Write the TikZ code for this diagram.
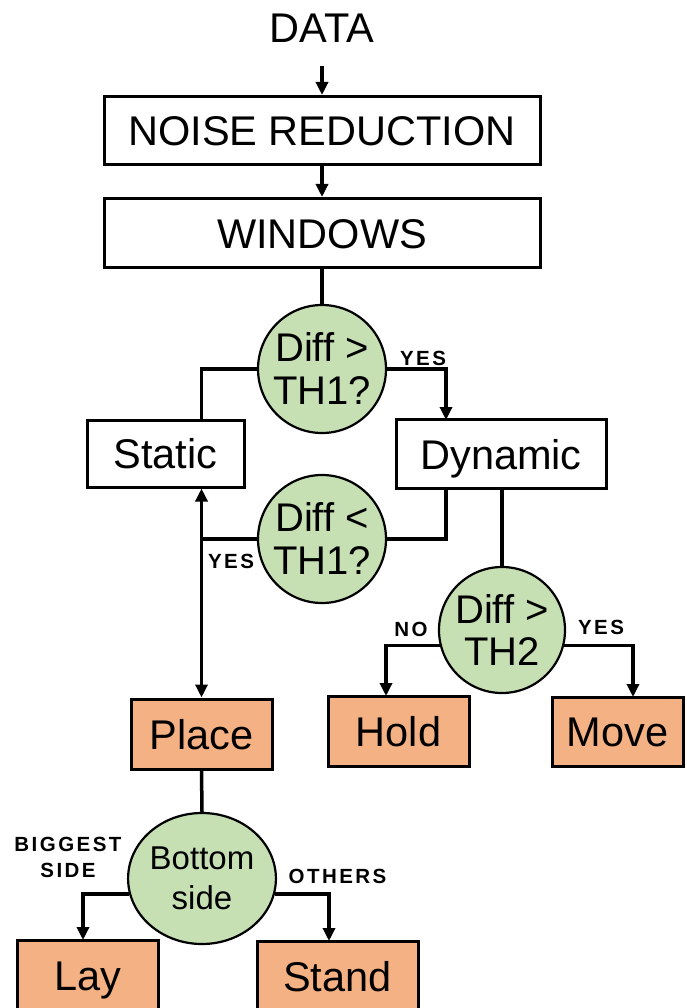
\documentclass[tikz,border=0pt]{standalone}
\usepackage{fontspec}
\setmainfont{Liberation Sans}
\newfontfamily\lblfont[LetterSpace=12]{Liberation Sans}
\usetikzlibrary{arrows.meta,shapes.geometric}

\definecolor{decgreen}{RGB}{198,224,180}
\definecolor{outorange}{RGB}{244,177,131}

\begin{document}
\begin{tikzpicture}[x=1pt,y=-1pt,
  conn/.style={line width=3.5pt},
  arr/.style={conn,-{Triangle[length=13pt,width=12pt]}},
  dblarr/.style={conn,{Triangle[length=13pt,width=12pt]}-{Triangle[length=13pt,width=12pt]}},
  bigtext/.style={font=\fontsize{41.5}{45}\selectfont,text height=30pt,text depth=0pt},
  stepbox/.style={bigtext,draw,line width=3pt,fill=white,inner sep=0pt},
  outbox/.style={stepbox,fill=outorange},
  decision/.style={circle,draw,line width=2.2pt,fill=decgreen,inner sep=0pt,
    minimum size=128pt,align=center,font=\fontsize{40}{43}\selectfont},
  lblbase/.style={font={\lblfont\bfseries\fontsize{20.5}{26}\selectfont},inner sep=0pt},
  lbl/.style={lblbase,text height=14.7pt,text depth=0pt}
]
\useasboundingbox (0,0) rectangle (686,1008);
\clip (0,0) rectangle (686,1008);

% pipeline head
\node[bigtext,inner sep=0pt] (data) at (322,28) {DATA};
\node[stepbox,minimum width=436pt,minimum height=68pt] (noise) at (322,130.5) {NOISE REDUCTION};
\node[stepbox,minimum width=436pt,minimum height=69pt] (windows) at (322,233) {WINDOWS};

% first decision
\node[decision] (c1) at (322,369) {Diff >\\TH1?};
\node[stepbox,minimum width=157pt,minimum height=67pt] (static) at (165.5,453.5) {Static};
\node[stepbox,minimum width=210pt,minimum height=69pt] (dynamic) at (501,454) {Dynamic};

% second decisions
\node[decision] (c2) at (322,539) {Diff <\\TH1?};
\node[decision,minimum size=126pt] (c3) at (502,630) {Diff >\\TH2};

% outcomes
\node[outbox,minimum width=141pt,minimum height=70pt] (place) at (201.5,734) {Place};
\node[outbox,minimum width=141pt,minimum height=70pt] (hold) at (398.5,731) {Hold};
\node[outbox,minimum width=131pt,minimum height=69pt] (move) at (617.5,731.5) {Move};

\node[decision,ellipse,minimum width=128pt,minimum height=131pt,
  font=\fontsize{33}{40}\selectfont] (bside) at (202,878.5) {Bottom\\side};
\node[outbox,minimum width=141pt,minimum height=70pt] (lay) at (87.5,975) {Lay};
\node[outbox,minimum width=161pt,minimum height=70pt] (stand) at (337.5,976) {Stand};

% bend and entry points
\coordinate (dynin) at (446,420);
\coordinate (dynout) at (446,489);
\coordinate (holdin) at (386,696);
\coordinate (movein) at (633,697);
\coordinate (layin) at (83,940);
\coordinate (standin) at (329,941);

% connectors
\draw[arr,shorten <=23pt] (data.south) -- (noise.north);
\draw[arr] (noise.south) -- (windows.north);
\draw[conn] (windows.south) -- (c1.north);
\draw[conn] (c1.west) -| (static.north -| place.north);
\draw[arr] (c1.east) -| (dynin);
\draw[conn] (dynout) |- (c2.east);
\draw[conn] (c2.west) -- (c2.west -| place.north);
\draw[dblarr] (static.south -| place.north) -- (place.north);
\draw[conn] (dynamic.south -| c3.north) -- (c3.north);
\draw[arr] (c3.194) -| (holdin);
\draw[arr] (c3.-14) -| (movein);
\draw[conn] (place.south) -- (bside.north);
\draw[arr] (bside.192) -| (layin);
\draw[arr] (bside.-12) -| (standin);

% branch labels
\node[lbl] (yes1) at (423,358) {YES};
\node[lbl] (yes2) at (231,561) {YES};
\node[lbl] (no3) at (411,629.5) {NO};
\node[lbl] (yes3) at (601,627) {YES};
\node[lblbase,align=center] (big) at (68,857.5) {BIGGEST\\SIDE};
\node[lbl] (others) at (337.5,876) {OTHERS};
\end{tikzpicture}
\end{document}
